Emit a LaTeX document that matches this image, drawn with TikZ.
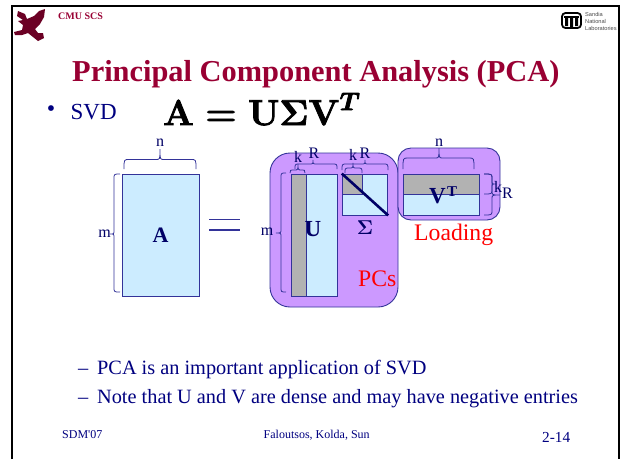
\documentclass[tikz,border=0pt]{standalone}
\usepackage{fix-cm}
\usepackage[no-math]{fontspec}
\setmainfont{Liberation Serif}
\newfontfamily\sansf{Liberation Sans}
\newfontfamily\plainserif[Ligatures=ResetAll]{Liberation Serif}
\usetikzlibrary{calc}
\definecolor{navy}{HTML}{000066}
\definecolor{bluetext}{HTML}{000080}
\definecolor{edge}{HTML}{333399}
\definecolor{lblue}{HTML}{CCECFF}
\definecolor{purp}{HTML}{CC99FF}
\definecolor{gr}{HTML}{B2B2B2}
\definecolor{dred}{HTML}{990033}
\tikzset{x=1pt,y=-1pt,
  mat/.style={draw=edge,line width=.9pt,fill=lblue},
  grayp/.style={draw=edge,line width=.9pt,fill=gr},
  halo/.style={draw=edge,line width=.9pt,fill=purp},
  brc/.style={draw=edge,line width=.8pt},
  lab/.style={text=navy,inner sep=0pt,font=\fontsize{16}{16}\selectfont},
  big/.style={text=navy,inner sep=0pt,font=\fontsize{23}{23}\selectfont\bfseries},
  redl/.style={text=red,inner sep=0pt,anchor=base west,font=\fontsize{23.7}{24}\selectfont},
  body/.style={text=bluetext,inner sep=0pt,anchor=base west,font=\fontsize{20.3}{21}\selectfont},
  foot/.style={text=bluetext,inner sep=0pt,anchor=base west,font=\fontsize{12}{12}\selectfont}}
% horizontal brace: x1,x2,tip x,y end,y mid,y tip
\newcommand\hbr[6]{\draw[brc] (#1,#4) .. controls (#1,#5) and (#1,#5) .. ({#1+5},#5) -- ({#3-4},#5) .. controls (#3,#5) and (#3,#5) .. (#3,#6) .. controls (#3,#5) and (#3,#5) .. ({#3+4},#5) -- ({#2-5},#5) .. controls (#2,#5) and (#2,#5) .. (#2,#4);}
% vertical brace: y1,y2,tip y,x end,x mid,x tip
\newcommand\vbr[6]{\draw[brc] (#4,#1) .. controls (#5,#1) and (#5,#1) .. (#5,{#1+5}) -- (#5,{#3-4}) .. controls (#5,#3) and (#5,#3) .. (#6,#3) .. controls (#5,#3) and (#5,#3) .. (#5,{#3+4}) -- (#5,{#2-5}) .. controls (#5,#2) and (#5,#2) .. (#4,#2);}
\begin{document}
\mathversion{bold}
\begin{tikzpicture}
\useasboundingbox (0,0) rectangle (621,459);
\fill[white] (0,0) rectangle (621,459);
% frame
\draw[black,line width=2pt] (11.5,459) -- (11.5,5.5) -- (619,5.5) -- (619,459);
% griffin logo
\fill[dred!70!black] (18,11) -- (25,14) -- (27,19) -- (34,16) -- (39,11) -- (45,9) -- (44,17) -- (40,24) -- (35,29) -- (38,33) -- (43,33) -- (44,38) -- (38,41) -- (33,37) -- (28,33) -- (22,35) -- (15,35) -- (14,32) -- (22,30) -- (23,25) -- (18,21) -- (23,20) -- (17,16) -- cycle;
\node[inner sep=0pt,anchor=base west,text=dred,font=\fontsize{10}{10}\selectfont\bfseries] (cmu) at (58,19) {CMU SCS};
% sandia logo
\draw[black,line width=1.8pt,fill=white,rounded corners=3.5pt] (562,13) rectangle (581,28);
\fill[black] (564,16) rectangle (579,18);
\fill[black] (565,18) rectangle (568,26) (570,16) rectangle (573,27) (575,18) rectangle (578,26);
\node[inner sep=0pt,anchor=west,align=left,text=black!70,font=\sansf\fontsize{5.65}{7}\selectfont] (sandia) at (585,21.5) {Sandia\\National\\Laboratories};
% title
\node[inner sep=0pt,anchor=base west,text=dred,font=\fontsize{30.4}{31}\selectfont\bfseries] (title) at (72,81) {Principal Component Analysis (PCA)};
\node[text=bluetext,inner sep=0pt,font=\fontsize{24}{24}\selectfont] (bul) at (51,111) {•};
\node[inner sep=0pt,anchor=base west,text=bluetext,font=\fontsize{23}{23}\selectfont] (svd) at (70.5,119) {SVD};
\node[inner sep=0pt,anchor=base west,font=\fontsize{36}{36}\selectfont] (eq) at (163,125) {\special{pdf:code 2 Tr 0.8 w}$\mathbf{A}=\mathbf{U\Sigma V}^{T}$\special{pdf:code 0 Tr 1 w}};
% purple halos
\draw[halo,rounded corners=20pt] (270,153) rectangle (398,307);
\draw[halo,rounded corners=13pt] (398,148) rectangle (500,220);
% A
\node[mat,minimum width=77pt,minimum height=122pt,inner sep=0pt] (A) at (160.5,235) {};
\node[inner sep=0pt,text=navy,font=\fontsize{22}{22}\selectfont\bfseries] (Alab) at (160.5,235) {A};
\coordinate (eqa) at (209,219.5);\coordinate (eqb) at (240,219.5);
\coordinate (eqc) at (209,230);\coordinate (eqd) at (240,230);
\draw[edge,line width=1.2pt] (eqa) -- (eqb) (eqc) -- (eqd);
\hbr{124}{196}{160}{169}{159.5}{149}
\vbr{174}{292}{234}{120}{114}{110}
\node[lab] (n1) at (160,143) {n};
\node[lab] (m1) at (104.5,234) {m};
% U
\node[mat,minimum width=46pt,minimum height=122pt,inner sep=0pt] (U) at (314,235) {};
\node[grayp,minimum width=15pt,minimum height=122pt,inner sep=0pt] (Ug) at (298.5,235) {};
\node[big] (Ulab) at (313,229) {U};
\vbr{173}{292}{233}{286}{281}{276}
\node[lab] (m2) at (267,232) {m};
\hbr{290}{305}{298}{173}{170}{164}
\hbr{295}{337}{313}{169}{164}{160}
\node[lab] (k1) at (298,157) {k};
\node[lab] (R1) at (314,153.5) {R};
% Sigma
\node[mat,minimum width=45.5pt,minimum height=41pt,inner sep=0pt] (S) at (365,194.5) {};
\node[grayp,minimum width=20pt,minimum height=20pt,inner sep=0pt] (Sg) at (352,184) {};
\draw[navy,line width=2.6pt] (S.north west) -- (S.south east);
\node[inner sep=0pt,text=navy,font=\fontsize{20}{20}\selectfont] (Slab) at (365,228) {$\mathbf{\Sigma}$};
\hbr{345}{362}{353}{173}{168}{163}
\hbr{342}{388}{365}{170}{164}{160}
\node[lab] (k2) at (353,155) {k};
\node[lab] (R2) at (365,153.5) {R};
% V
\node[mat,minimum width=76pt,minimum height=41pt,inner sep=0pt] (V) at (441,194.5) {};
\node[grayp,minimum width=76pt,minimum height=20pt,inner sep=0pt] (Vg) at (441,184) {};
\node[big] (Vl) at (437.5,196.5) {V};
\node[inner sep=0pt,text=navy,font=\fontsize{15}{15}\selectfont\bfseries] (Tl) at (452,192) {T};
\hbr{403}{474}{439}{169}{158}{148}
\node[lab] (n2) at (439,143) {n};
\vbr{174}{194}{184}{484}{492}{496}
\vbr{174}{215}{195}{484}{492}{500}
\node[lab] (k3) at (498,187) {k};
\node[lab] (R3) at (507.5,193) {R};
\node[redl] (load) at (414,240) {Loading};
\node[redl] (pcs) at (358,286) {PCs};
% bottom text
\node[body] (l1) at (78,374) {–\hspace{8.85pt}PCA is an important application of SVD};
\node[body] (l2) at (78,403) {–\hspace{8.85pt}Note that U and V are dense and may have negative entries};
\node[foot] (f1) at (62,438) {SDM{\plainserif\char39}07};
\node[foot] (f2) at (263.5,438) {Faloutsos, Kolda, Sun};
\node[inner sep=0pt,anchor=base west,text=bluetext,font=\fontsize{15.3}{16}\selectfont] (f3) at (542,442) {2-14};
\end{tikzpicture}
\end{document}
